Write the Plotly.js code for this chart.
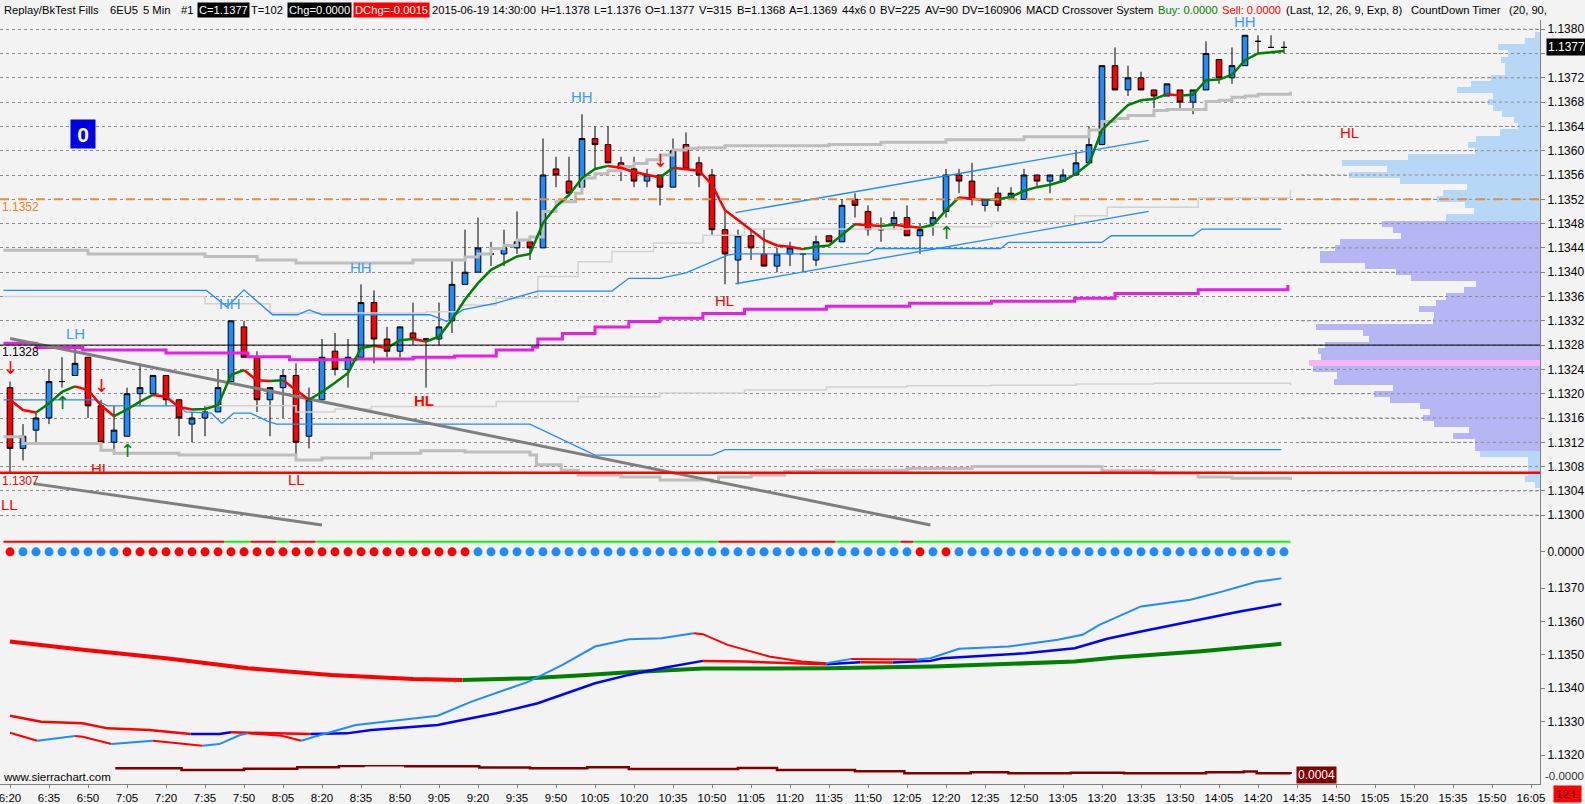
<!DOCTYPE html>
<html><head><meta charset="utf-8">
<script src="https://cdn.plot.ly/plotly-3.0.1.min.js"></script>
<style>html,body{margin:0;padding:0;background:#f3f3f3;overflow:hidden}#chart{width:1585px;height:804px}</style>
</head><body><div id="chart"></div>
<script>
// ---------- DATA ----------
const tickLabels = ['6:20','6:35','6:50','7:05','7:20','7:35','7:50','8:05','8:20','8:35','8:50','9:05','9:20','9:35','9:50','10:05','10:20','10:35','10:50','11:05','11:20','11:35','11:50','12:05','12:20','12:35','12:50','13:05','13:20','13:35','13:50','14:05','14:20','14:35','14:50','15:05','15:20','15:35','15:50','16:05'];

const opens = [1.1321,1.1311,1.1314,1.1316,1.1322,1.1323,1.1326,1.1318,1.1312,1.1313,
1.1320,1.1320,1.1323,1.1319,1.1315,1.1316,1.1317,1.1322,1.1331,1.1326,
1.1319,1.1321,1.1323,1.1313,1.1319,1.1327,1.1324,1.1326,1.1335,1.1329,
1.1327,1.1330,1.1329,1.1329,1.1332,1.1338,1.1340,1.1343,1.1343,1.1344,
1.1345,1.1344,1.1357,1.1355,1.1354,1.1362,1.1361,1.1358,1.1357,1.1355,
1.1356,1.1354,1.1361,1.1358,1.1356,1.1347,1.1342,1.1346,1.1343,1.1341,
1.1343,1.1343,1.1342,1.1346,1.1345,1.1352,1.1350,1.1347,1.1348,1.1349,
1.1346,1.1348,1.1350,1.1356,1.1355,1.1351,1.1353,1.1352,1.1352,1.1356,
1.1355,1.1355,1.1356,1.1358,1.1361,1.1374,1.1370,1.1372,1.1370,1.1369,
1.1370,1.1368,1.1370,1.1375,1.1372,1.1374,1.1378,1.1377,1.1377];
const highs = [1.1322,1.1315,1.1317,1.1324,1.1326,1.1328,1.1326,1.1319,1.1318,1.1321,
1.1325,1.1323,1.1323,1.1319,1.1317,1.1318,1.1324,1.1332,1.1332,1.1327,
1.1321,1.1324,1.1325,1.1321,1.1329,1.1330,1.1329,1.1338,1.1337,1.1331,
1.1331,1.1335,1.1329,1.1335,1.1342,1.1347,1.1349,1.1345,1.1347,1.1350,
1.1346,1.1362,1.1359,1.1359,1.1366,1.1364,1.1364,1.1359,1.1359,1.1357,
1.1356,1.1362,1.1363,1.1359,1.1357,1.1350,1.1347,1.1347,1.1347,1.1344,
1.1345,1.1343,1.1346,1.1346,1.1352,1.1353,1.1351,1.1349,1.1350,1.1351,
1.1348,1.1350,1.1357,1.1357,1.1358,1.1352,1.1354,1.1354,1.1357,1.1356,
1.1356,1.1357,1.1360,1.1364,1.1374,1.1377,1.1374,1.1373,1.1370,1.1371,
1.1370,1.1370,1.1378,1.1375,1.1377,1.1379,1.1379,1.1379,1.1378];
const lows = [1.1307,1.1309,1.1312,1.1315,1.1321,1.1323,1.1316,1.1311,1.1310,1.1313,
1.1318,1.1320,1.1318,1.1313,1.1312,1.1313,1.1317,1.1322,1.1326,1.1317,
1.1313,1.1316,1.1309,1.1311,1.1319,1.1323,1.1321,1.1326,1.1325,1.1326,
1.1326,1.1328,1.1321,1.1328,1.1330,1.1338,1.1340,1.1341,1.1341,1.1343,
1.1342,1.1344,1.1354,1.1353,1.1354,1.1357,1.1358,1.1355,1.1354,1.1354,
1.1351,1.1354,1.1357,1.1354,1.1346,1.1338,1.1338,1.1342,1.1341,1.1340,
1.1341,1.1340,1.1341,1.1345,1.1345,1.1349,1.1346,1.1345,1.1347,1.1346,
1.1343,1.1346,1.1349,1.1353,1.1351,1.1350,1.1350,1.1352,1.1352,1.1354,
1.1353,1.1355,1.1356,1.1358,1.1361,1.1370,1.1369,1.1370,1.1367,1.1369,
1.1367,1.1366,1.1370,1.1371,1.1371,1.1374,1.1376,1.1377,1.1376];
const closes = [1.1311,1.1313,1.1316,1.1322,1.1322,1.1325,1.1318,1.1312,1.1314,1.1320,
1.1321,1.1323,1.1319,1.1316,1.1316,1.1317,1.1321,1.1332,1.1326,1.1319,
1.1321,1.1323,1.1312,1.1319,1.1326,1.1324,1.1326,1.1335,1.1329,1.1327,
1.1331,1.1329,1.1329,1.1331,1.1338,1.1340,1.1344,1.1343,1.1344,1.1345,
1.1344,1.1356,1.1356,1.1353,1.1362,1.1361,1.1358,1.1357,1.1355,1.1356,
1.1354,1.1360,1.1357,1.1356,1.1347,1.1343,1.1346,1.1344,1.1341,1.1343,
1.1344,1.1343,1.1345,1.1345,1.1351,1.1351,1.1347,1.1347,1.1349,1.1346,
1.1347,1.1349,1.1356,1.1355,1.1352,1.1352,1.1351,1.1353,1.1356,1.1355,
1.1356,1.1356,1.1358,1.1361,1.1374,1.1370,1.1372,1.1370,1.1369,1.1371,
1.1368,1.1370,1.1376,1.1372,1.1374,1.1379,1.1378,1.1377,1.1377];

// fast moving average drawn on price
const maValues = [1.13190,1.13173,1.13169,1.13184,1.13203,1.13212,1.13206,1.13181,1.13163,1.13174,
1.13187,1.13198,1.13195,1.13178,1.13174,1.13175,1.13181,1.13231,1.13239,1.13222,
1.13221,1.13222,1.13206,1.13190,1.13203,1.13218,1.13234,1.13275,1.13279,1.13275,
1.13288,1.13290,1.13286,1.13294,1.13322,1.13355,1.13382,1.13404,1.13415,1.13426,
1.13430,1.13481,1.13508,1.13527,1.13555,1.13570,1.13575,1.13572,1.13565,1.13561,
1.13556,1.13572,1.13570,1.13567,1.13544,1.13502,1.13486,1.13470,1.13453,1.13444,
1.13442,1.13438,1.13442,1.13444,1.13461,1.13479,1.13478,1.13476,1.13478,1.13476,
1.13473,1.13478,1.13502,1.13523,1.13521,1.13519,1.13520,1.13524,1.13534,1.13540,
1.13544,1.13550,1.13562,1.13579,1.13634,1.13655,1.13675,1.13683,1.13685,1.13693,
1.13691,1.13692,1.13716,1.13717,1.13725,1.13749,1.13760,1.13762,1.13764];

// band lines (bar position, value)
const upperBandBars = [-0.5,6,15,19,22,31,35,36,37,38,39,40,41,42,43.5,44,45,46,47,48,49,50,51,52,53,55,63,67,72,78,83,84,85,86,88,89,92,93,94,95,96,98.5];
const upperBandVals = [1.13436,1.1343,1.13426,1.1342,1.13415,1.1342,1.13425,1.1343,1.13439,1.13444,1.13453,1.13458,1.1350,1.13516,1.1353,1.13555,1.13562,1.13567,1.13574,1.13579,1.13585,1.13593,1.13601,1.13604,1.13605,1.13608,1.1361,1.13614,1.13618,1.13623,1.13634,1.13648,1.13653,1.13658,1.13666,1.13668,1.13681,1.13683,1.13688,1.1369,1.13693,1.13697];
const upperThinBars = [-0.5,15,20,32,34.5,37.4,40.6,43.7,46.3,49.5,53.3,56.5,69.2,75.5,81.9,84.4,91.4,98.5];
const upperThinVals = [1.1336,1.13348,1.13333,1.13335,1.13346,1.13357,1.13393,1.13417,1.13434,1.13448,1.13461,1.13471,1.13475,1.13483,1.13493,1.13507,1.13522,1.13536];
const lowerBandBars = [-0.5,1,7,8,13,22,24,27.8,31.6,35,40,40.5,42.4,43.7,47,50,54,54.5,57,59.6,62,69,74,83,84,88,91.4,94,98.5];
const lowerBandVals = [1.13129,1.13118,1.13107,1.13102,1.13099,1.13091,1.13094,1.13102,1.13106,1.13104,1.13099,1.13083,1.13074,1.13066,1.13063,1.13058,1.13055,1.13063,1.13066,1.13072,1.13074,1.13077,1.1308,1.1308,1.13073,1.13069,1.13063,1.13061,1.13058];
const lowerThinBars = [15,22,25,27.8,37.4,43.7,50,56.5,62.8,69,75.5,82,88,98.5];
const lowerThinVals = [1.1318,1.1317,1.13175,1.13179,1.13187,1.13195,1.13201,1.13206,1.13211,1.13213,1.13214,1.13216,1.13217,1.13214];
const blueUpperBars = [-0.5,15.1,16.7,18,20.2,22.1,23,24,32.3,33.6,34.8,37.4,40.6,46.3,47.6,50,52,55.2,55.8,66,66.6,76.2,76.8,84,84.7,91,91.7,97.8];
const blueUpperVals = [1.1337,1.1337,1.13343,1.13371,1.1333,1.1333,1.13338,1.1333,1.1333,1.13319,1.13338,1.13349,1.13369,1.13369,1.1339,1.1339,1.13399,1.13428,1.1343,1.1343,1.13439,1.13439,1.13449,1.13449,1.1346,1.1346,1.13471,1.13471];
const blueLowerBars = [-0.5,6.6,7.5,13,13.5,15.5,16.3,17.2,18.5,19.8,20.5,40,45,54,55,97.8];
const blueLowerVals = [1.1319,1.1319,1.1318,1.1318,1.1317,1.13168,1.13151,1.13168,1.13168,1.13155,1.1315,1.1315,1.13099,1.13099,1.13108,1.13108];
const vwapBars = [-0.5,1,2,5.6,12,18.3,21.5,26.6,31,34.2,37.4,40.2,40.6,42.5,45,47.6,50,53.3,56.5,62.8,69.2,75.5,81.9,85,91.4,98.3];
const vwapVals = [1.13283,1.13283,1.13276,1.13272,1.13267,1.13261,1.13256,1.13257,1.1326,1.13262,1.13272,1.13277,1.1329,1.13299,1.1331,1.13319,1.13324,1.13332,1.13339,1.13344,1.13349,1.13352,1.13357,1.13365,1.13371,1.13379];
// drawn trend lines and channel
const trendABars = [0,70.8], trendAVals = [1.13291,1.12984];
const trendBBars = [1.8,24], trendBVals = [1.13052,1.12984];
const chanUpBars = [55.8,87.6], chanUpVals = [1.13498,1.13617];
const chanLoBars = [55.8,87.6], chanLoVals = [1.13381,1.13500];

// volume profile
const profilePrices = [1.1379,1.1378,1.1377,1.1376,1.1375,1.1374,1.1373,1.1372,1.1371,1.1370,1.1369,1.1368,1.1367,1.1366,1.1365,1.1364,1.1363,1.1362,1.1361,1.1360,1.1359,1.1358,1.1357,1.1356,1.1355,1.1354,1.1353,1.1352,1.1351,1.1350,1.1349,
1.1348,1.1347,1.1346,1.1345,1.1344,1.1343,1.1342,1.1341,1.1340,1.1339,1.1338,1.1337,1.1336,1.1335,1.1334,1.1333,1.1332,1.1331,1.1330,1.1329,1.1328,1.1327,1.1326,1.1325,1.1324,1.1323,1.1322,1.1321,1.1320,1.1319,1.1318,1.1317,1.1316,1.1315,1.1314,1.1313,1.1312,1.1311,
1.1310,1.1309,1.1308,1.1307,1.1306,1.1305];
const profileVolumes = [50,150,417,317,390,350,350,490,690,830,467,517,467,377,257,217,397,637,717,650,1317,1977,1527,1907,1397,727,967,1027,750,657,937,
1577,1467,1390,1997,2050,2200,2200,1750,1440,1290,640,757,937,1037,1210,1060,1070,2240,1767,1710,2150,2223,2190,2310,2267,2030,2057,1470,1657,1497,1200,1103,1167,1060,710,867,650,650,
597,123,117,123,150,50];
const valueAreaHigh = 1.1348, valueAreaLow = 1.1311, pocPrice = 1.1325;

// signal row, as runs of [state, number of bars]
const dotRuns = [[-1,1],[1,8],[-1,27],[1,34],[-1,1],[1,1],[-1,1],[1,26]];
const signalRuns = [[-1,17],[1,2],[-1,2],[1,1],[-1,2],[1,31],[-1,9],[1,5],[-1,1],[1,29]];

// lower panel moving averages
const slowBars = [0,5.6,12,18.3,24.7,31,34.8,40,43.7,47.6,53.3,62.8,71,75.5,81.9,85,91.4,97.8];
const slowVals = [1.13540,1.13515,1.13490,1.13460,1.13440,1.13428,1.13425,1.13430,1.13438,1.13448,1.13459,1.13460,1.13465,1.13470,1.13480,1.13492,1.13510,1.13533];
const fastBars = [0,2.1,5,5.6,7.8,11,14.8,16.1,17.7,18.3,20.9,22.4,23.4,26.6,29.8,32.9,35.5,39.9,42.5,45,47.6,50.1,52.6,53.3,55.2,58.4,60.9,62.8,64.7,67.6,69.8,70.8,73,76.8,80.6,82.5,83.8,87,90.8,93.3,95.9,97.8];
const fastVals = [1.13267,1.13243,1.13257,1.13255,1.13233,1.13243,1.13228,1.13233,1.13260,1.13265,1.13258,1.13243,1.13255,1.13290,1.13305,1.13318,1.13360,1.13420,1.13470,1.13525,1.13547,1.13550,1.13565,1.13562,1.13530,1.13495,1.13480,1.13475,1.13488,1.13487,1.13486,1.13490,1.13518,1.13525,1.13545,1.13560,1.13590,1.13645,1.13665,1.13690,1.13719,1.13729];
const midBars = [0,2.4,5.6,7.5,10.7,13.9,16.1,17,18.3,20.9,23.1,25.9,27.8,32.9,34.8,37.4,40.6,42.5,45,47.6,50.1,53.3,56.5,60.3,62.8,65.4,67.9,70.8,71.7,75.5,78.1,81.9,84.4,87,90.8,94.6,97.8];
const midVals = [1.13318,1.13300,1.13295,1.13280,1.13275,1.13263,1.13263,1.13268,1.13267,1.13265,1.13263,1.13265,1.13275,1.13290,1.13305,1.13325,1.13355,1.13380,1.13415,1.13440,1.13460,1.13482,1.13480,1.13475,1.13472,1.13478,1.13477,1.13482,1.13490,1.13498,1.13505,1.13520,1.13548,1.13570,1.13600,1.13630,1.13652];
const rangeBars = [8.1,13.2,18,22.1,25.3,27.2,30.4,36.1,40,44.4,47.6,56,59,65,68.8,73.9,76.8,81.6,85.7,92,94.9,95.9,98.5];
const rangeVals = [0.000453,0.000435,0.000449,0.000463,0.000477,0.000484,0.000474,0.00046,0.000453,0.000463,0.000446,0.000456,0.000435,0.000421,0.0004,0.00041,0.0004,0.000407,0.0004,0.00041,0.000418,0.0004,0.000393];

// header texts
const headerItems = [
  ['Replay/BkTest Fills'], ['6EU5'], ['5 Min'], ['#1'], ['C=1.1377','#fff','#000'], ['T=102'],
  ['Chg=0.0000','#fff','#000'], ['DChg=-0.0015','#fff','#ff0000'], ['2015-06-19 14:30:00'], ['H=1.1378'], ['L=1.1376'],
  ['O=1.1377'], ['V=315'], ['B=1.1368'], ['A=1.1369'], ['44x6 0'], ['BV=225'], ['AV=90'], ['DV=160906'],
  ['MACD Crossover System'], ['Buy: 0.0000','#008000'], ['Sell: 0.0000','#ff0000'], ['(Last, 12, 26, 9, Exp, 8)'],
  ['CountDown Timer'], ['(20, 90,']];

// ---------- DRAWING ----------
const FONT = "Liberation Sans, Arial, sans-serif";
const W = 1540, H = 784;
const bars = opens.map((_, i) => i);
const tickBars = tickLabels.map((_, i) => i * 3);
const RED = '#ff0000', BLUE = '#1e8cff', GREEN = '#008000';
const expandRuns = runs => runs.reduce((a, r) => a.concat(Array(r[1]).fill(r[0])), []);
const dotState = expandRuns(dotRuns);
const signalState = expandRuns(signalRuns);

function line(xs, ys, color, width, yaxis, shape, dash) {
  return {type:'scatter', mode:'lines', x:xs, y:ys, yaxis:yaxis||'y', xaxis:'x',
    line:{color, width, shape:shape||'linear', dash:dash||'solid'}, hoverinfo:'skip', showlegend:false};
}
function slopeLines(xs, ys, upColor, downColor, width, yaxis) {
  const runs = [];
  for (let i = 0; i < xs.length - 1; i++) {
    const c = ys[i+1] < ys[i] ? downColor : upColor;
    if (!runs.length || runs[runs.length-1].c !== c) runs.push({c, x:[xs[i]], y:[ys[i]]});
    const r = runs[runs.length-1]; r.x.push(xs[i+1]); r.y.push(ys[i+1]);
  }
  return runs.map(r => line(r.x, r.y, r.c, width, yaxis));
}
function stateLines(states, value, posColor, negColor, width, yaxis) {
  const runs = [];
  states.forEach((s, i) => {
    const c = s > 0 ? posColor : negColor;
    if (!runs.length || runs[runs.length-1].c !== c) runs.push({c, x:[i-0.5], y:[value]});
    const r = runs[runs.length-1]; r.x.push(i+0.5); r.y.push(value);
  });
  return runs.map(r => line(r.x, r.y, r.c, width, yaxis));
}

const traces = [];
traces.push(line(upperThinBars, upperThinVals, '#d2d2d2', 1.5, 'y', 'hv'));
traces.push(line(lowerThinBars, lowerThinVals, '#d2d2d2', 1.5, 'y', 'hv'));
traces.push(line(upperBandBars, upperBandVals, '#bdbdbd', 3, 'y', 'hv'));
traces.push(line(lowerBandBars, lowerBandVals, '#bdbdbd', 3, 'y', 'hv'));
traces.push(line(blueUpperBars, blueUpperVals, BLUE, 1.3));
traces.push(line(blueLowerBars, blueLowerVals, BLUE, 1.3));
traces.push(line(vwapBars, vwapVals, '#e61ee6', 3, 'y', 'hv'));
traces.push(line(chanUpBars, chanUpVals, BLUE, 1.3));
traces.push(line(chanLoBars, chanLoVals, BLUE, 1.3));
traces.push({type:'candlestick', x:bars, open:opens, high:highs, low:lows, close:closes, xaxis:'x', yaxis:'y',
  increasing:{line:{color:'#000', width:1}, fillcolor:BLUE},
  decreasing:{line:{color:'#000', width:1}, fillcolor:RED},
  whiskerwidth:0, hoverinfo:'skip', showlegend:false});
traces.push(line(trendABars, trendAVals, '#7f7f7f', 3));
traces.push(line(trendBBars, trendBVals, '#7f7f7f', 3));
slopeLines(bars, maValues, GREEN, RED, 2.5, 'y').forEach(t => traces.push(t));

// volume profile
traces.push({type:'bar', orientation:'h', x:profileVolumes, y:profilePrices, xaxis:'x2', yaxis:'y', width:0.0001,
  marker:{color:profilePrices.map(p => Math.abs(p-pocPrice) < 1e-7 ? '#f5b6f5' : (p <= valueAreaHigh + 1e-7 && p >= valueAreaLow - 1e-7 ? '#b6b6f5' : '#b6d7f5')), line:{width:0}},
  hoverinfo:'skip', showlegend:false});

// signal row
stateLines(signalState, 1.05, '#00ff00', RED, 2, 'y2').forEach(t => traces.push(t));
traces.push({type:'scatter', mode:'markers', x:bars, y:bars.map(() => 0), xaxis:'x', yaxis:'y2',
  marker:{size:9, color:dotState.map(s => s > 0 ? BLUE : RED), line:{width:0}}, hoverinfo:'skip', showlegend:false});

// lower panel
slopeLines(slowBars, slowVals, GREEN, RED, 4, 'y3').forEach(t => traces.push(t));
slopeLines(midBars, midVals, '#0000ff', RED, 2.5, 'y3').forEach(t => traces.push(t));
slopeLines(fastBars, fastVals, BLUE, RED, 2, 'y3').forEach(t => traces.push(t));
traces.push(line(rangeBars, rangeVals, '#800000', 2.5, 'y4', 'hv'));

// helpers for pixel-placed text
const px = x => x / W, py = y => 1 - y / H;
const annotations = [];
function txt(text, x, y, o) {
  o = o || {};
  annotations.push(Object.assign({text, xref:'paper', yref:'paper', x:px(x), y:py(y), xanchor:o.xa||'left', yanchor:'middle',
    showarrow:false, font:{family:FONT, size:o.size||11, color:o.color||'#000'}, bgcolor:o.bg||'rgba(0,0,0,0)', borderpad:o.pad||0}, o.extra||{}));
}
// header line: laid out left to right with measured text widths
const HS = 11.2;
const ctx = document.createElement('canvas').getContext('2d');
ctx.font = HS + 'px "Liberation Sans", Arial, sans-serif';
const headerTargets = [2.5,108.7,142,179.6,194,249,282,348.5,429.6,538,585.7,628.6,676,709,756.6,828,873,912,948,1013,1151,1215,1282,1410,1508];
let hx = 0;
headerItems.forEach((h, i) => {
  const pad = h[2] ? 1 : 0;
  const x = Math.max(headerTargets[i], hx);
  txt(h[0], x, 10, {color:h[1]||'#000', bg:h[2], pad, size:HS});
  hx = x + ctx.measureText(h[0]).width + 2*pad + (h[2] ? 3 : 4.5);
});

// swing labels
const LB = '#3d9cf5';
txt('LH', 75, 333, {color:LB, size:15, xa:'center'});
txt('HH', 230, 303, {color:LB, size:15, xa:'center'});
txt('HH', 361, 267, {color:LB, size:15, xa:'center'});
txt('HH', 582, 97, {color:LB, size:15, xa:'center'});
txt('HH', 1245, 22, {color:LB, size:15, xa:'center'});
txt('HL', 724, 300, {color:RED, size:15, xa:'center'});
txt('<b>HL</b>', 424, 400, {color:RED, size:15, xa:'center'});
txt('HI', 99, 468, {color:RED, size:15, xa:'center'});
txt('LL', 296, 479, {color:RED, size:15, xa:'center'});
txt('LL', 9, 504, {color:RED, size:15, xa:'center'});
txt('HL', 1349, 132, {color:RED, size:15, xa:'center'});
txt('1.1352', 1, 207, {color:'#e8821e', size:12});
txt('1.1328', 1, 352, {color:'#000', size:12});
txt('1.1307', 1, 481, {color:'#d01010', size:12});
txt('<b>0</b>', 82.5, 134, {color:'#fff', size:21, xa:'center', bg:'#0000e6', extra:{width:24, height:28}});
txt('1.1377', 1546, 47.4, {color:'#fff', bg:'#000', size:12, pad:1});
txt('0.0004', 1296, 775, {color:'#fff', bg:'#800000', size:12, pad:1});
txt('-0.0000', 1544, 776, {color:'#333', size:11.5});
txt('www.sierrachart.com', 2, 777, {color:'#000', size:11.5});
txt('12 L', 1568, 794, {color:'#300000', bg:'#ff0000', size:11.5, xa:'center', pad:2});

// arrows anchored to bars
function arrow(b, up) {
  annotations.push({text: up ? '↑' : '↓', xref:'x', yref:'y', x:b, y: up ? lows[b] : highs[b],
    yanchor: up ? 'top' : 'bottom', yshift: up ? -2 : 2, showarrow:false,
    font:{family:'DejaVu Sans', size:18, color: up ? GREEN : RED}});
}
arrow(0, false); arrow(7, false); arrow(50, false);
arrow(4, true); arrow(9, true); arrow(72, true);

// shapes
const shapes = [];
for (let p = 1.1300; p <= 1.13801; p += 0.0004) {
  shapes.push({type:'line', xref:'x', yref:'y', x0:99.3, x1:117.7, y0:p, y1:p, layer:'above', line:{color:'#8a8a8a', width:1, dash:'dot'}});
}
shapes.push({type:'line', xref:'paper', yref:'y', x0:0, x1:1, y0:1.1352, y1:1.1352, layer:'above', line:{color:'#f08c28', width:2, dash:'dash'}});
shapes.push({type:'line', xref:'paper', yref:'y', x0:0, x1:1, y0:1.1328, y1:1.1328, layer:'above', line:{color:'#000', width:1}});
shapes.push({type:'line', xref:'paper', yref:'y', x0:0, x1:1, y0:1.1307, y1:1.1307, layer:'above', line:{color:'#ff0000', width:2.5}});

const mainTicks = []; for (let i = 0; i <= 20; i++) mainTicks.push(+(1.1300 + i*0.0004).toFixed(4));
const lowTicks = []; for (let i = 0; i <= 5; i++) lowTicks.push(+(1.1320 + i*0.001).toFixed(4));
const axisFont = {family:FONT, size:12, color:'#000'};
const yCommon = {side:'right', anchor:'x', showline:true, linecolor:'#808080', linewidth:1, ticks:'outside', ticklen:4, tickcolor:'#808080', zeroline:false, tickfont:axisFont, fixedrange:true};

const layout = {
  width:1585, height:804, margin:{l:0, r:45, t:0, b:20, pad:0, autoexpand:false},
  paper_bgcolor:'#f3f3f3', plot_bgcolor:'#f3f3f3', showlegend:false, boxgap:0.38, bargap:0,
  xaxis:{domain:[0,1], range:[-10/13, 1530/13], anchor:'y4', tickvals:tickBars, ticktext:tickLabels, ticks:'outside', ticklen:3, tickcolor:'#808080',
    showline:true, linecolor:'#808080', showgrid:false, zeroline:false, tickfont:{family:FONT, size:11.5, color:'#000'}, ticklabeloverflow:'allow',
    rangeslider:{visible:false}, fixedrange:true},
  xaxis2:{overlaying:'x', range:[15400, 0], visible:false, anchor:'y', fixedrange:true},
  yaxis:Object.assign({}, yCommon, {domain:[(H-532)/H, (H-20)/H], range:[1.1297235, 1.1381514], tickvals:mainTicks,
    ticktext:mainTicks.map(v => Math.abs(v-1.1376) < 1e-7 ? '' : v.toFixed(4)),
    showgrid:true, gridcolor:'#8a8a8a', griddash:'dot', gridwidth:1}),
  yaxis2:Object.assign({}, yCommon, {domain:[(H-560)/H, (H-532)/H], range:[-0.85, 2.0667], tickvals:[0], ticktext:['0.0000'], showgrid:false}),
  yaxis3:Object.assign({}, yCommon, {domain:[(H-765)/H, (H-560)/H], range:[1.131703, 1.137840], tickvals:lowTicks, ticktext:lowTicks.map(v => v.toFixed(4)), showgrid:false}),
  yaxis4:Object.assign({}, yCommon, {domain:[0, (H-765)/H], range:[0.000288, 0.000487], showticklabels:false, ticks:'', showgrid:false}),
  annotations, shapes
};
Plotly.newPlot('chart', traces, layout, {staticPlot:true, displayModeBar:false});
</script></body></html>
